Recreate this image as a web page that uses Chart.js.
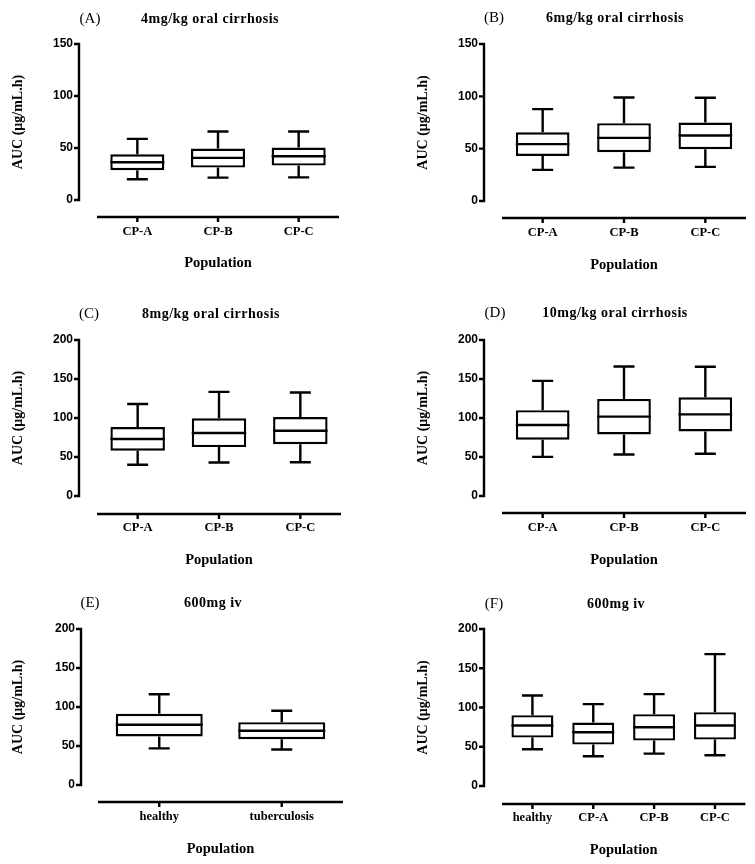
<!DOCTYPE html>
<html>
<head>
<meta charset="utf-8">
<script src="https://cdn.jsdelivr.net/npm/chart.js@4.4.1/dist/chart.umd.min.js"></script>
<style>
html,body{margin:0;padding:0;background:#fff;}
#page{position:relative;width:755px;height:864px;background:#fff;}
.panel{position:absolute;width:377px;height:288px;}
</style>
</head>
<body>
<div id="page">
<div class="panel" style="left:0;top:0"><canvas id="chartA" width="377" height="288"></canvas></div>
<div class="panel" style="left:378px;top:0"><canvas id="chartB" width="377" height="288"></canvas></div>
<div class="panel" style="left:0;top:288px"><canvas id="chartC" width="377" height="288"></canvas></div>
<div class="panel" style="left:378px;top:288px"><canvas id="chartD" width="377" height="288"></canvas></div>
<div class="panel" style="left:0;top:576px"><canvas id="chartE" width="377" height="288"></canvas></div>
<div class="panel" style="left:378px;top:576px"><canvas id="chartF" width="377" height="288"></canvas></div>
</div>
<script>
/* ==========================================
DATA (AUC, ug/mL.h)
========================================== */

const cirrhosisCats = ["CP-A", "CP-B", "CP-C"];

// (A) 4mg/kg oral cirrhosis
const minA = [20.0, 21.5, 21.8];
const q1A  = [28.6, 31.2, 33.1];
const medA = [36.3, 40.5, 42.1];
const q3A  = [44.0, 49.5, 50.4];
const maxA = [58.8, 65.9, 65.9];

// (B) 6mg/kg oral cirrhosis
const minB = [29.7, 31.9, 32.6];
const q1B  = [43.1, 46.6, 49.5];
const medB = [54.3, 60.3, 62.6];
const q3B  = [65.7, 74.4, 75.0];
const maxB = [87.8, 98.9, 98.6];

// (C) 8mg/kg oral cirrhosis
const minC = [40.0, 43.0, 43.3];
const q1C  = [58.0, 62.7, 66.5];
const medC = [73.0, 80.7, 83.7];
const q3C  = [88.4, 99.6, 101.3];
const maxC = [118.0, 133.5, 132.6];

// (D) 10mg/kg oral cirrhosis
const minD = [50.2, 53.2, 54.1];
const q1D  = [72.1, 79.0, 82.8];
const medD = [91.0, 101.7, 104.7];
const q3D  = [110.0, 124.5, 126.6];
const maxD = [147.6, 166.0, 165.7];

// (E) 600mg iv
const catsE = ["healthy", "tuberculosis"];
const minE = [46.9, 45.6];
const q1E  = [62.3, 58.8];
const medE = [77.2, 69.5];
const q3E  = [91.3, 80.6];
const maxE = [116.4, 95.1];

// (F) 600mg iv
const catsF = ["healthy", "CP-A", "CP-B", "CP-C"];
const minF = [46.8, 37.9, 41.3, 39.1];
const q1F  = [61.7, 52.8, 57.9, 59.1];
const medF = [77.0, 68.5, 74.9, 77.0];
const q3F  = [90.2, 80.9, 91.5, 94.0];
const maxF = [115.3, 104.3, 117.0, 168.0];

const yTicksStep = 50;

const LINE_W = 2.4;


/* ==========================================
BOX / AXIS PLUGIN (GraphPad look)
========================================== */

const boxPlugin = {

id: "gpBox",

afterDraw(chart, args, o){

const ctx = chart.ctx;
const xs = chart.scales.x;
const ys = chart.scales.y;
const area = chart.chartArea;
const meta = chart.getDatasetMeta(0);

ctx.save();
ctx.strokeStyle = "#000";
ctx.lineWidth = LINE_W;

// detached y axis
const yx = area.left - o.yGap;
ctx.beginPath();
ctx.moveTo(yx, ys.getPixelForValue(ys.max) - 1.2);
ctx.lineTo(yx, ys.getPixelForValue(0) + 1.2);
ys.ticks.forEach(t => {
const py = ys.getPixelForValue(t.value);
ctx.moveTo(yx - 5, py);
ctx.lineTo(yx, py);
});

// detached x axis
const xy = area.bottom + o.xDrop;
ctx.moveTo(area.left, xy);
ctx.lineTo(area.right, xy);
xs.ticks.forEach((t, i) => {
const px = xs.getPixelForValue(i);
ctx.moveTo(px, xy);
ctx.lineTo(px, xy + 5);
});
ctx.stroke();

// whiskers + median
meta.data.forEach((bar, i) => {
const px = xs.getPixelForValue(i);
const half = bar.width / 2;
const cap = o.cap / 2;
const pMin = ys.getPixelForValue(o.min[i]);
const pQ1 = ys.getPixelForValue(o.q1[i]);
const pMed = ys.getPixelForValue(o.med[i]);
const pQ3 = ys.getPixelForValue(o.q3[i]);
const pMax = ys.getPixelForValue(o.max[i]);
ctx.beginPath();
ctx.moveTo(px, pQ3);
ctx.lineTo(px, pMax);
ctx.moveTo(px - cap, pMax);
ctx.lineTo(px + cap, pMax);
ctx.moveTo(px, pQ1);
ctx.lineTo(px, pMin);
ctx.moveTo(px - cap, pMin);
ctx.lineTo(px + cap, pMin);
ctx.moveTo(px - half, pMed);
ctx.lineTo(px + half, pMed);
ctx.stroke();
});

// panel letter + heading
ctx.fillStyle = "#000";
ctx.textAlign = "center";
ctx.textBaseline = "middle";
ctx.font = "15px 'Liberation Serif'";
ctx.fillText(o.letter, o.letterX, o.headY);
ctx.font = "bold 14px 'Liberation Serif'";
ctx.letterSpacing = "0.5px";
ctx.fillText(o.heading, o.headX, o.headY);
ctx.letterSpacing = "0px";

ctx.restore();

}

};


/* ==========================================
CHART BUILDER
========================================== */

function buildChart(id, cats, mins, q1s, meds, q3s, maxs, yMax, lay){

const serif = "'Liberation Serif'";

return new Chart(
document.getElementById(id),
{

type: "bar",

data: {

labels: cats,

datasets: [{

data: q1s.map((v, i) => [v, q3s[i]]),

backgroundColor: "#fff",

borderColor: "#000",

borderWidth: LINE_W,

borderSkipped: false,

barPercentage: lay.barPct,

categoryPercentage: 1

}]
},

options: {

responsive: false,

animation: false,

layout: {
padding: { left: 0, top: lay.top, right: 377 - lay.right, bottom: 0 }
},

plugins: {

legend: { display: false },

tooltip: { enabled: false },

gpBox: {
min: mins, q1: q1s, med: meds, q3: q3s, max: maxs,
yGap: lay.left - lay.yLine,
xDrop: lay.xLine - lay.bottom,
cap: 21,
letter: lay.letter,
heading: lay.heading,
letterX: lay.letterX,
headX: lay.headX,
headY: lay.headY
}

},

scales: {

x: {
grid: { display: false, drawTicks: false },
border: { display: false },
ticks: {
color: "#000",
maxRotation: 0,
padding: lay.tickPad,
font: { family: serif, weight: "bold", size: 12.5 }
},
title: {
display: true,
text: "Population",
color: "#000",
font: { family: serif, weight: "bold", size: 14.5 },
padding: { top: 0, bottom: 288 - lay.popY - 8.7 }
},
afterFit: s => { s.height = 288 - lay.bottom; }
},

y: {
min: 0,
max: yMax,
grid: { display: false, drawTicks: false },
border: { display: false },
ticks: {
stepSize: yTicksStep,
color: "#000",
padding: lay.left - lay.yLine + 6,
font: { family: "'Liberation Sans'", weight: "bold", size: 12 }
},
title: {
display: true,
text: "AUC (μg/mL.h)",
color: "#000",
font: { family: serif, weight: "bold", size: 14 },
padding: { top: lay.yTitleX - 8.4, bottom: 0 }
},
afterFit: s => { s.width = lay.left; }
}

}

},

plugins: [boxPlugin]

}
);

}


/* ==========================================
BUILD THE SIX PANELS
========================================== */

buildChart("chartA", cirrhosisCats, minA, q1A, medA, q3A, maxA, 150, {
left: 97, right: 339, top: 44, bottom: 200, xLine: 217, yLine: 79,
barPct: 0.67, tickPad: 24, popY: 263, yTitleX: 18,
letter: "(A)", heading: "4mg/kg oral cirrhosis", letterX: 90, headX: 210, headY: 19
});

buildChart("chartB", cirrhosisCats, minB, q1B, medB, q3B, maxB, 150, {
left: 124, right: 368, top: 44, bottom: 201, xLine: 218, yLine: 106,
barPct: 0.66, tickPad: 24, popY: 265, yTitleX: 45,
letter: "(B)", heading: "6mg/kg oral cirrhosis", letterX: 116, headX: 237, headY: 18
});

buildChart("chartC", cirrhosisCats, minC, q1C, medC, q3C, maxC, 200, {
left: 97, right: 341, top: 52, bottom: 208, xLine: 226, yLine: 79,
barPct: 0.67, tickPad: 24, popY: 272, yTitleX: 18,
letter: "(C)", heading: "8mg/kg oral cirrhosis", letterX: 89, headX: 211, headY: 26
});

buildChart("chartD", cirrhosisCats, minD, q1D, medD, q3D, maxD, 200, {
left: 124, right: 368, top: 52, bottom: 208, xLine: 225, yLine: 106,
barPct: 0.66, tickPad: 24, popY: 272, yTitleX: 45,
letter: "(D)", heading: "10mg/kg oral cirrhosis", letterX: 117, headX: 237, headY: 25
});

buildChart("chartE", catsE, minE, q1E, medE, q3E, maxE, 200, {
left: 98, right: 343, top: 53, bottom: 209, xLine: 226, yLine: 81,
barPct: 0.71, tickPad: 24, popY: 273, yTitleX: 18,
letter: "(E)", heading: "600mg iv", letterX: 90, headX: 213, headY: 27
});

buildChart("chartF", catsF, minF, q1F, medF, q3F, maxF, 200, {
left: 124, right: 368, top: 53, bottom: 210, xLine: 228, yLine: 106,
barPct: 0.69, tickPad: 24, popY: 274, yTitleX: 45,
letter: "(F)", heading: "600mg iv", letterX: 116, headX: 238, headY: 28
});
</script>
</body>
</html>
